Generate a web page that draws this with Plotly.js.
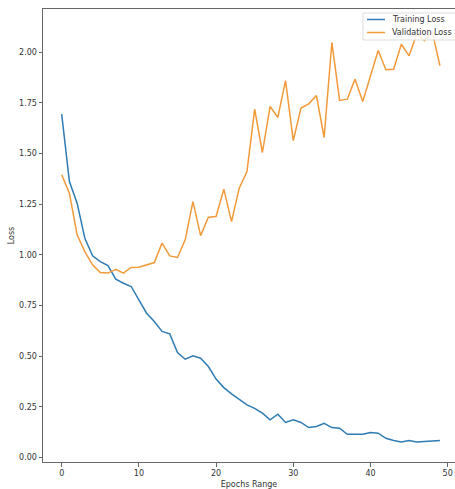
<!DOCTYPE html>
<html>
<head>
<meta charset="utf-8">
<script src="https://cdn.plot.ly/plotly-3.0.1.min.js"></script>
<style>
html,body{margin:0;padding:0;overflow:hidden;background:#fff;}
#chart{width:455px;height:489px;}
</style>
</head>
<body>
<div id="chart"></div>
<script>
const epochs = Array.from({length: 50}, (_, i) => i);
const trainingLoss = [
  1.694, 1.362, 1.255, 1.082, 0.995, 0.967, 0.947, 0.880, 0.860, 0.844,
  0.778, 0.712, 0.671, 0.622, 0.610, 0.518, 0.485, 0.502, 0.490, 0.449,
  0.387, 0.345, 0.314, 0.288, 0.260, 0.243, 0.219, 0.186, 0.214, 0.173,
  0.186, 0.173, 0.148, 0.153, 0.169, 0.148, 0.145, 0.115, 0.115, 0.115,
  0.123, 0.120, 0.095, 0.084, 0.077, 0.084, 0.077, 0.079, 0.084, 0.084
];
const validationLoss = [
  1.395, 1.304, 1.099, 1.016, 0.951, 0.913, 0.910, 0.929, 0.910, 0.938,
  0.939, 0.951, 0.962, 1.058, 0.995, 0.987, 1.074, 1.263, 1.095, 1.186,
  1.189, 1.324, 1.164, 1.329, 1.411, 1.719, 1.505, 1.732, 1.678, 1.860,
  1.564, 1.724, 1.745, 1.786, 1.579, 2.048, 1.762, 1.768, 1.867, 1.757,
  1.880, 2.008, 1.913, 1.916, 2.039, 1.982, 2.090, 2.057, 2.100, 1.934
];
const seriesNames = ["Training Loss", "Validation Loss"];
const seriesColors = ["#2f7cb3", "#f29a3a"];
const yTicks = [0, 0.25, 0.5, 0.75, 1.0, 1.25, 1.5, 1.75, 2.0];
const yTickText = ["0.00", "0.25", "0.50", "0.75", "1.00", "1.25", "1.50", "1.75", "2.00"];
const xTicks = [0, 10, 20, 30, 40, 50];

const W = 455, H = 489;
const M = {l: 43, r: 0, t: 9, b: 27};
const font = {family: "DejaVu Sans, sans-serif", size: 8, color: "#333"};

const traces = [
  {x: epochs, y: trainingLoss, name: seriesNames[0], type: "scatter", mode: "lines",
   line: {color: seriesColors[0], width: 1.5}, showlegend: false},
  {x: epochs, y: validationLoss, name: seriesNames[1], type: "scatter", mode: "lines",
   line: {color: seriesColors[1], width: 1.5}, showlegend: false}
];

// pixel -> paper helpers for the legend box
const pw = W - M.l - M.r, ph = H - M.t - M.b;
const px = v => (v - M.l) / pw;
const py = v => (H - M.b - v) / ph;

const shapes = [
  {type: "rect", xref: "paper", yref: "paper", x0: px(363), x1: px(470), y0: py(40), y1: py(13),
   fillcolor: "rgba(255,255,255,0.85)", line: {color: "#ddd", width: 1}, layer: "above"}
];
const annotations = [];
seriesNames.forEach((name, i) => {
  const yy = 19.5 + i * 13;
  shapes.push({type: "line", xref: "paper", yref: "paper", x0: px(367), x1: px(385),
               y0: py(yy), y1: py(yy), line: {color: seriesColors[i], width: 1.5}, layer: "above"});
  annotations.push({xref: "paper", yref: "paper", x: px(390), y: py(yy), xanchor: "left",
                    yanchor: "middle", text: name, showarrow: false, font: font});
});

const layout = {
  width: W, height: H,
  margin: M,
  paper_bgcolor: "#fff", plot_bgcolor: "#fff",
  font: font,
  showlegend: false,
  shapes: shapes,
  annotations: annotations,
  xaxis: {
    showgrid: false, zeroline: false, showline: true, mirror: true,
    linecolor: "#666", linewidth: 1, ticks: "outside", ticklen: 3.5,
    tickcolor: "#666", tickwidth: 1, tickfont: font,
    range: [-2.42, 50.95], tickvals: xTicks, ticktext: xTicks.map(String),
    title: {text: "Epochs Range", font: font, standoff: 4}
  },
  yaxis: {
    showgrid: false, zeroline: false, showline: true, mirror: false,
    linecolor: "#666", linewidth: 1, ticks: "outside", ticklen: 3.5,
    tickcolor: "#666", tickwidth: 1, tickfont: font,
    range: [-0.022, 2.213], tickvals: yTicks, ticktext: yTickText,
    title: {text: "Loss", font: font, standoff: 3}
  }
};

Plotly.newPlot("chart", traces, layout, {displayModeBar: false, staticPlot: true});
</script>
</body>
</html>
